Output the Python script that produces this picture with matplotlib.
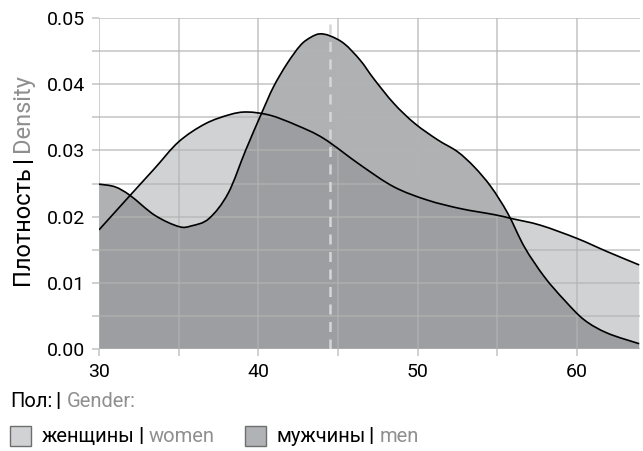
import matplotlib
matplotlib.use("Agg")
import matplotlib.pyplot as plt
from matplotlib.patches import Rectangle, PathPatch
from matplotlib.path import Path

# density curves (age, density)
women_age = [30, 31.95, 33.5, 35.0, 36.65, 38.2, 39.3, 40.75, 42.4, 44.1,
             46.4, 48.5, 50.6, 52.7, 54.8, 55.9, 57.7, 60.0, 61.9, 63.9]
women_dens = [0.0180, 0.0232, 0.0273, 0.0313, 0.0340, 0.0354, 0.0358, 0.0353,
              0.0338, 0.0318, 0.0278, 0.0245, 0.0225, 0.0212, 0.0203, 0.0197,
              0.0187, 0.0167, 0.0147, 0.0127]

men_age = [30, 31.0, 31.95, 33.5, 35.0, 35.8, 36.9, 38.1, 39.2, 40.2, 40.95, 41.8,
           42.65, 43.3, 43.85, 44.5, 45.4, 46.4, 47.25, 48.5, 49.8, 51.25, 52.5,
           53.55, 54.6, 55.65, 56.7, 57.95, 59.2, 60.45, 61.9, 63.9]
men_dens = [0.0249, 0.0245, 0.0232, 0.0202, 0.0185, 0.0186, 0.0197, 0.0235, 0.0300,
            0.0356, 0.0396, 0.0431, 0.0459, 0.0471, 0.0476, 0.0473, 0.0461, 0.0436,
            0.0408, 0.0371, 0.0341, 0.0316, 0.0298, 0.0275, 0.0245, 0.0205, 0.0154,
            0.0109, 0.0074, 0.0044, 0.0024, 0.0008]

mean_age = 44.47

x_ticks = [30, 40, 50, 60]
y_ticks = [0.00, 0.01, 0.02, 0.03, 0.04, 0.05]

W, H = 643, 451
plt.rcParams['font.family'] = ['Roboto', 'DejaVu Sans']

women_col = '#d1d2d4'
men_col = '#7a7b7e'
men_alpha = 0.587
grey_txt = '#8f8f8f'


def smooth(xs, ys):
    # catmull-rom through the read points, as bezier segments
    pts = list(zip(xs, ys))
    verts = [pts[0]]
    codes = [Path.MOVETO]
    n = len(pts)
    for i in range(n - 1):
        p0 = pts[max(i - 1, 0)]
        p1 = pts[i]
        p2 = pts[i + 1]
        p3 = pts[min(i + 2, n - 1)]
        c1 = (p1[0] + (p2[0] - p0[0]) / 6, p1[1] + (p2[1] - p0[1]) / 6)
        c2 = (p2[0] - (p3[0] - p1[0]) / 6, p2[1] - (p3[1] - p1[1]) / 6)
        verts += [c1, c2, p2]
        codes += [Path.CURVE4] * 3
    return verts, codes


def area(ax, xs, ys, col, alpha):
    v, c = smooth(xs, ys)
    line = Path(v, c)
    fv = [(xs[0], 0)] + v + [(xs[-1], 0), (xs[0], 0)]
    fc = [Path.MOVETO, Path.LINETO] + c[1:] + [Path.LINETO, Path.CLOSEPOLY]
    ax.add_patch(PathPatch(Path(fv, fc), facecolor=col, alpha=alpha, lw=0, zorder=1))
    ax.add_patch(PathPatch(line, facecolor='none', edgecolor='black', lw=1.2, zorder=3))


fig = plt.figure(figsize=(W / 100, H / 100), dpi=100)
ax = fig.add_axes([99 / W, 1 - 349 / H, (640 - 99) / W, (349 - 18) / H])

area(ax, women_age, women_dens, women_col, 1.0)
area(ax, men_age, men_dens, men_col, men_alpha)
ax.axvline(mean_age, color='#d6d6d6', lw=1.8, ls=(0, (4, 3)), zorder=2.6)

ax.set_xlim(30, 63.95)
ax.set_ylim(0, 0.05)
ax.set_xticks(x_ticks)
ax.set_yticks(y_ticks)
ax.set_xticks([35, 45, 55], minor=True)
ax.set_yticks([0.005, 0.015, 0.025, 0.035, 0.045], minor=True)
ax.set_yticklabels(['%.2f' % v for v in y_ticks])
ax.set_axisbelow('line')
ax.grid(True, which='both', color='#b3b3b3', alpha=0.66, lw=1.3)
for s in ax.spines.values():
    s.set_visible(False)
ax.tick_params(which='both', length=5, width=1.2, color='#c8c8c8')
ax.tick_params(axis='both', labelsize=14, pad=5)


def place(parts, x, y, size, rot=0):
    # draw text pieces one after another, x/y in image pixels
    r = fig.canvas.get_renderer()
    for s, col, gap in parts:
        t = fig.text(x / W, 1 - y / H, s, color=col, fontsize=size,
                     fontweight='bold' if s == '|' else 'normal',
                     rotation=rot, rotation_mode='anchor',
                     ha='left', va='baseline')
        bb = t.get_window_extent(r)
        if rot == 0:
            x += bb.width + gap
        else:
            y -= bb.height + gap


place([('Плотность', 'black', 4), ('|', 'black', 4), ('Density', grey_txt, 0)],
      29, 285, 17, rot=90)
place([('Пол:', 'black', 3), ('|', 'black', 6), ('Gender:', grey_txt, 0)],
      10, 407, 14.5)
place([('женщины', 'black', 3), ('|', 'black', 6), ('women', grey_txt, 0)],
      42, 442, 14.5)
place([('мужчины', 'black', 3), ('|', 'black', 6), ('men', grey_txt, 0)],
      276, 442, 14.5)

for bx, col in [(10, women_col), (245, '#b1b2b5')]:
    fig.patches.append(Rectangle((bx / W, 1 - 446 / H), 21 / W, 20 / H,
                                 transform=fig.transFigure, facecolor=col,
                                 edgecolor='#6e6e6e', lw=1.0))

fig.savefig('out.png', dpi=100)
